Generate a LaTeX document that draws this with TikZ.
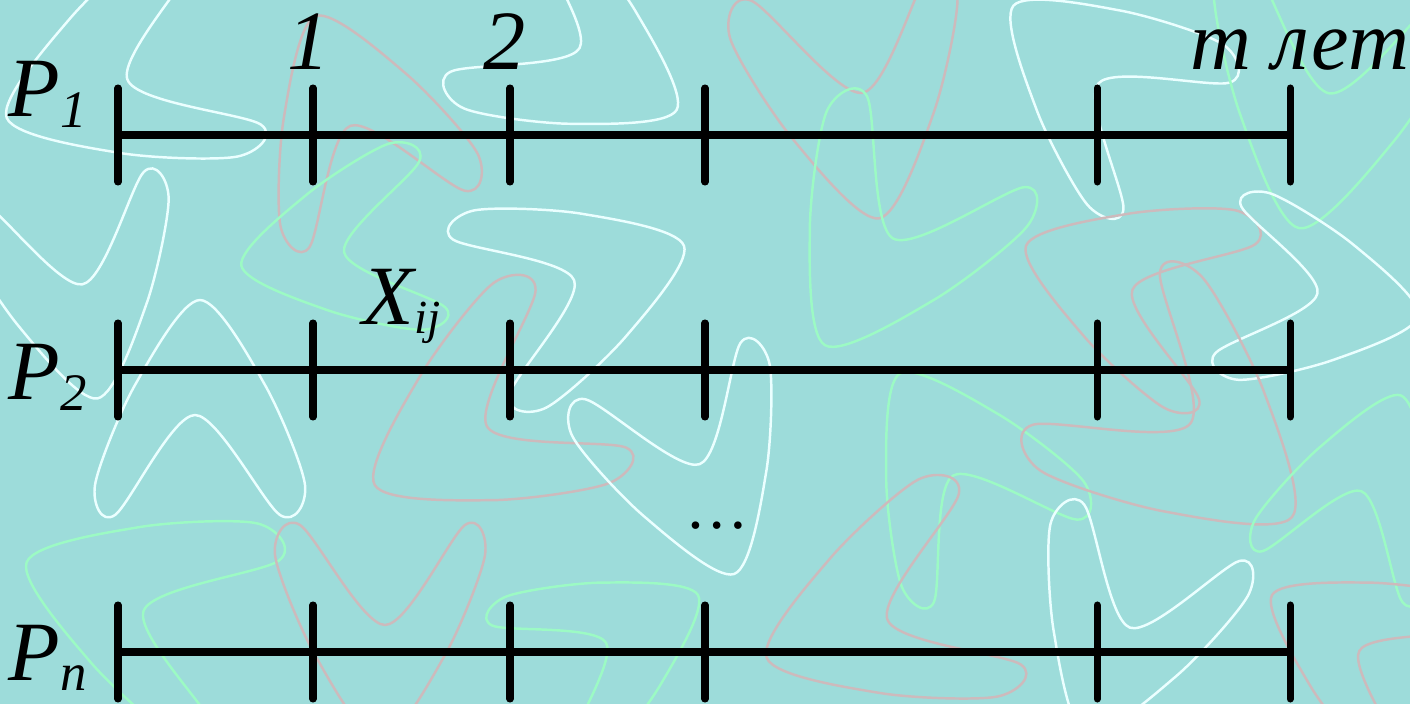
\documentclass[tikz,border=0pt]{standalone}
\usepackage{fontspec}
\setmainfont{Liberation Serif}
\newcommand\bigsz{\fontsize{24}{28}\selectfont}
\newcommand\subsz{\fontsize{15}{18}\selectfont}
\newcommand\lowsub[1]{\lower3pt\hbox{\subsz #1}}
\begin{document}
\begin{tikzpicture}[x=0.01cm, y=-0.01cm, line cap=round, line join=round]
  \definecolor{bgteal}{RGB}{157,220,218}
  \definecolor{wc}{RGB}{235,255,255}
  \definecolor{gc}{RGB}{156,250,196}
  \definecolor{pc}{RGB}{205,186,188}
  \tikzset{lbl/.style={anchor=base, inner sep=0pt, font=\bigsz\itshape},
           axis/.style={line width=2pt}}
  \fill[bgteal] (0,0) rectangle (1410,704);
  \useasboundingbox (0,0) rectangle (1410,704);
  \begin{scope}
    \clip (0,0) rectangle (1410,704);
    \foreach \x/\y/\r/\s/\c in {110/80/20/1.1/wc, 350/110/-70/1.0/pc, 590/60/150/1.0/wc,
        860/110/100/1.1/pc, 1090/70/-40/1.0/wc, 1320/110/80/1.2/gc,
        80/300/100/1.0/wc, 330/250/10/0.9/gc, 590/280/-160/1.0/wc, 880/250/60/1.1/gc,
        1120/280/-20/1.0/pc, 1330/300/170/0.9/wc,
        200/400/-90/1.0/wc, 470/430/30/1.1/pc, 700/480/110/1.0/wc, 950/460/-60/1.0/gc,
        1200/440/140/1.2/pc, 1370/480/-110/0.9/gc,
        130/600/-20/1.1/gc, 380/640/90/1.0/pc, 620/640/-150/0.9/gc, 870/620/20/1.1/pc,
        1120/640/70/1.0/wc, 1350/640/-30/0.9/pc}
      \draw[\c, line width=0.7pt, shift={(\x,\y)}, rotate=\r, scale=\s]
        plot[smooth cycle] coordinates {(-100,0) (-15,65) (85,105) (115,85) (15,5)
          (115,-80) (85,-105) (-15,-65)};
  \end{scope}
  % time lines
  \foreach \row in {135,370,652} {
    \draw[axis] (118,\row) -- (1290,\row);
    \foreach \t in {118,313,510,705,1097,1290}
      \draw[axis] (\t,\row-47) -- (\t,\row+47);
  }
  \node[lbl] (yr1) at (309,70) {1};
  \node[lbl] (yr2) at (505,70) {2};
  \node[lbl, anchor=base west] (yrm) at (1190,70) {т лет};
  \node[lbl, anchor=base west] (p1) at (8,117) {P\lowsub{1}};
  \node[lbl, anchor=base west] (p2) at (8,400) {P\lowsub{2}};
  \node[lbl, anchor=base west] (pn) at (8,680) {P\lowsub{n}};
  \node[lbl, anchor=base west] (xij) at (362,325) {X\lower2.3pt\hbox{\fontsize{13.5}{16}\selectfont ij}};
  \node[anchor=base, inner sep=0pt, font=\fontsize{18}{20}\selectfont] (dots) at (717,528) {…};
\end{tikzpicture}
\end{document}
